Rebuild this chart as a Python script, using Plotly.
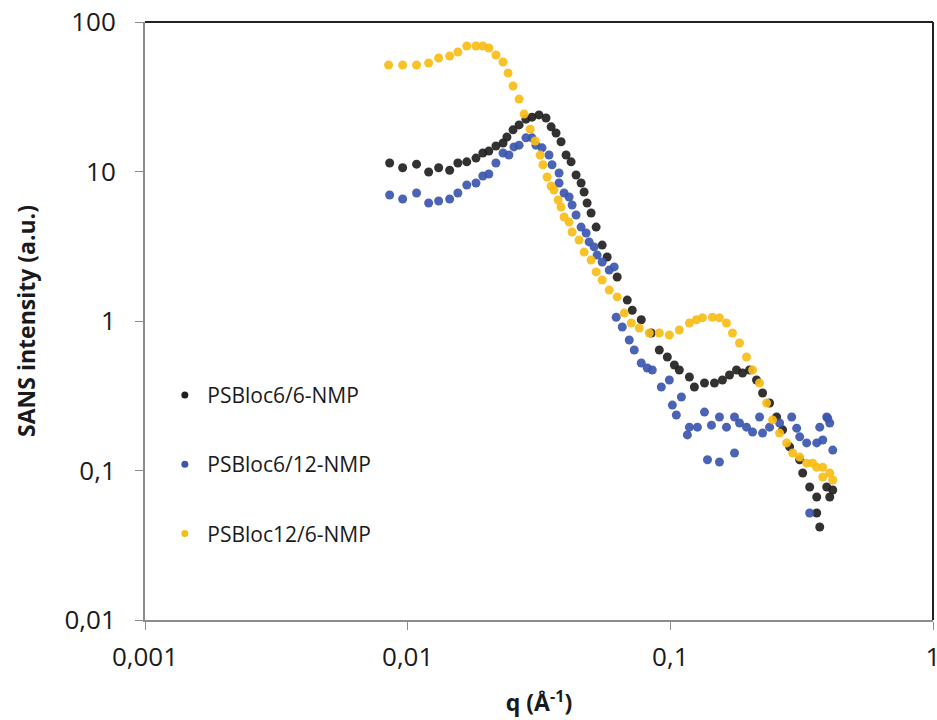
import plotly.graph_objects as go

# ---------------------------------------------------------------------------
# Data (q in 1/Angstrom, intensity in a.u.)
# ---------------------------------------------------------------------------

q_66 = [0.00854, 0.00957, 0.01081, 0.01202, 0.01312, 0.01445, 0.01553, 0.01679,
        0.01820, 0.01932, 0.02037, 0.02168, 0.02307, 0.02387, 0.02519, 0.02656,
        0.02821, 0.02974, 0.03162, 0.03363, 0.03517, 0.03672, 0.03837, 0.04010,
        0.04190, 0.04377, 0.04574, 0.04696, 0.04821, 0.04993, 0.05218, 0.05502,
        0.05748, 0.06276, 0.06855, 0.07161, 0.07750, 0.08462, 0.09078, 0.09739,
        0.1036, 0.1082, 0.1182, 0.1235, 0.1349, 0.1472, 0.1579, 0.1680, 0.1786,
        0.1883, 0.2002, 0.2129, 0.2245, 0.2387, 0.2539, 0.2676, 0.2846, 0.3108,
        0.3191, 0.3392, 0.3608, 0.3608, 0.3705, 0.3939, 0.4045, 0.4153]
i_66 = [11.4, 10.6, 11.2, 9.92, 10.6, 10.2, 11.4, 11.6, 12.3, 13.3, 13.7, 14.8,
        15.5, 17.0, 19.0, 20.5, 22.4, 23.1, 23.9, 22.8, 19.9, 18.1, 15.8, 12.9,
        11.6, 9.48, 8.38, 7.29, 6.16, 5.28, 4.25, 3.22, 2.68, 1.97, 1.38, 1.18,
        1.02, 0.831, 0.640, 0.574, 0.508, 0.470, 0.422, 0.362, 0.385, 0.385,
        0.403, 0.435, 0.470, 0.449, 0.470, 0.403, 0.330, 0.283, 0.228, 0.187,
        0.144, 0.118, 0.0962, 0.0775, 0.0665, 0.0520, 0.0419, 0.0775, 0.0665,
        0.0741]

q_612 = [0.00854, 0.00957, 0.01081, 0.01202, 0.01312, 0.01445, 0.01553, 0.01679,
         0.01820, 0.01932, 0.02037, 0.02168, 0.02307, 0.02429, 0.02539, 0.02656,
         0.02821, 0.02974, 0.03080, 0.03247, 0.03453, 0.03545, 0.03770, 0.03770,
         0.03940, 0.04118, 0.04227, 0.04377, 0.04574, 0.04779, 0.04906, 0.05127,
         0.05264, 0.05502, 0.05851, 0.06113, 0.06221, 0.06560, 0.06975, 0.07288,
         0.07750, 0.08170, 0.08536, 0.09238, 0.09913, 0.1018, 0.1054, 0.1102,
         0.1161, 0.1182, 0.1268, 0.1349, 0.1385, 0.1434, 0.1538, 0.1538, 0.1636,
         0.1755, 0.1755, 0.1834, 0.1950, 0.2056, 0.2186, 0.2245, 0.2387, 0.2606,
         0.2897, 0.3027, 0.3108, 0.3304, 0.3392, 0.3608, 0.3705, 0.3804, 0.3939,
         0.3974, 0.4045, 0.4153]
i_612 = [6.96, 6.55, 7.18, 6.16, 6.35, 6.55, 7.18, 8.12, 8.38, 9.33, 9.62, 11.4,
         13.3, 12.9, 14.6, 15.0, 16.8, 16.8, 15.0, 14.4, 12.9, 11.1, 9.77, 8.38,
         7.18, 6.75, 5.97, 5.12, 4.25, 3.88, 3.38, 3.13, 2.76, 2.48, 2.19, 2.30,
         1.06, 0.912, 0.746, 0.640, 0.524, 0.485, 0.470, 0.362, 0.403, 0.274,
         0.235, 0.310, 0.173, 0.195, 0.195, 0.246, 0.118, 0.201, 0.114, 0.228,
         0.195, 0.131, 0.228, 0.208, 0.195, 0.181, 0.228, 0.178, 0.195, 0.208,
         0.228, 0.192, 0.168, 0.153, 0.0520, 0.153, 0.195, 0.160, 0.228, 0.224,
         0.208, 0.137]

q_126 = [0.00846, 0.00957, 0.01081, 0.01202, 0.01312, 0.01445, 0.01553, 0.01679,
         0.01820, 0.01932, 0.02037, 0.02168, 0.02307, 0.02411, 0.02519, 0.02656,
         0.02775, 0.02926, 0.03057, 0.03194, 0.03273, 0.03396, 0.03517, 0.03606,
         0.03741, 0.03837, 0.03940, 0.04118, 0.04227, 0.04494, 0.04696, 0.04993,
         0.05218, 0.05502, 0.05851, 0.06276, 0.06676, 0.07098, 0.07615, 0.08314,
         0.09078, 0.09913, 0.1082, 0.1182, 0.1257, 0.1325, 0.1447, 0.1538, 0.1636,
         0.1724, 0.1834, 0.1950, 0.2056, 0.2186, 0.2325, 0.2450, 0.2606, 0.2772,
         0.2923, 0.3108, 0.3304, 0.3483, 0.3608, 0.3804, 0.3804, 0.4045, 0.4153]
i_126 = [51.6, 51.6, 51.6, 53.2, 57.4, 59.2, 63.0, 69.1, 69.1, 69.1, 67.0, 60.2,
         54.0, 45.6, 37.3, 30.5, 24.2, 19.2, 16.0, 12.9, 11.1, 9.19, 8.00, 7.52,
         6.45, 5.79, 4.96, 4.59, 3.94, 3.48, 2.89, 2.56, 2.13, 1.88, 1.61, 1.45,
         1.13, 0.970, 0.898, 0.831, 0.831, 0.806, 0.871, 0.970, 1.02, 1.05, 1.06,
         1.05, 0.970, 0.831, 0.713, 0.574, 0.470, 0.385, 0.283, 0.218, 0.178,
         0.153, 0.131, 0.123, 0.112, 0.112, 0.105, 0.105, 0.0905, 0.0962, 0.0864]

series_names = ["PSBloc6/6-NMP", "PSBloc6/12-NMP", "PSBloc12/6-NMP"]
series_colors = ["#231f20", "#3c56ae", "#f7bd16"]

x_tickvals = [0.001, 0.01, 0.1, 1]
x_ticktext = ["0,001", "0,01", "0,1", "1"]
y_tickvals = [0.01, 0.1, 1, 10, 100]
y_ticktext = ["0,01", "0,1", "1", "10", "100"]

FONT = "Open Sans, Noto Sans, DejaVu Sans, sans-serif"
GREY = "#8c8c8c"

fig = go.Figure()
for name, color, qs, vals in zip(series_names, series_colors,
                                 [q_66, q_612, q_126], [i_66, i_612, i_126]):
    fig.add_trace(go.Scatter(
        x=qs, y=vals, mode="markers", name=name, legendgroup=name, showlegend=False,
        marker=dict(color=color, size=9, opacity=0.92, line=dict(width=0)),
    ))

# legend-only entries, with the smaller dots the reference legend uses
for name, color in zip(series_names, series_colors):
    fig.add_trace(go.Scatter(
        x=[None], y=[None], mode="markers", name=name, legendgroup=name,
        marker=dict(color=color, size=7),
    ))

fig.update_layout(
    width=937, height=720,
    margin=dict(l=145, r=4, t=22, b=100),
    paper_bgcolor="white", plot_bgcolor="white",
    font=dict(family=FONT, color="#1a1a1a", size=21),
    legend=dict(x=0.022, y=0.41, xanchor="left", yanchor="top",
                bgcolor="rgba(0,0,0,0)", tracegroupgap=39, itemwidth=35,
                font=dict(size=21)),
    xaxis=dict(
        type="log", range=[-3, 0], showgrid=False, zeroline=False,
        showline=True, linecolor=GREY, linewidth=2,
        ticks="outside", ticklen=8, tickcolor=GREY, tickwidth=1,
        tickvals=x_tickvals, ticktext=x_ticktext, ticklabelstandoff=5,
        ticklabeloverflow="allow",
        tickfont=dict(size=26), automargin=False,
        title=dict(text="<b>q (Å<sup>-1</sup>)</b>", font=dict(size=23), standoff=22),
    ),
    yaxis=dict(
        type="log", range=[-2, 2], showgrid=False, zeroline=False,
        showline=True, linecolor=GREY, linewidth=2,
        ticks="outside", ticklen=8, tickcolor=GREY, tickwidth=1,
        tickvals=y_tickvals, ticktext=y_ticktext, ticklabelstandoff=14,
        tickfont=dict(size=26), automargin=False,
        title=dict(text="<b>SANS intensity (a.u.)</b>", font=dict(size=23), standoff=22),
    ),
)

# dark frame on the top and right edges of the plot area
fig.add_shape(type="line", xref="paper", yref="paper", x0=0, x1=1, y0=1, y1=1,
              line=dict(color="#222222", width=2))
fig.add_shape(type="line", xref="paper", yref="paper", x0=1, x1=1, y0=0, y1=1,
              line=dict(color="#222222", width=2))

fig.write_html(
    "out.html",
    config={"displayModeBar": False},
    post_script="document.body.style.margin='0';document.body.style.overflow='hidden';",
)
